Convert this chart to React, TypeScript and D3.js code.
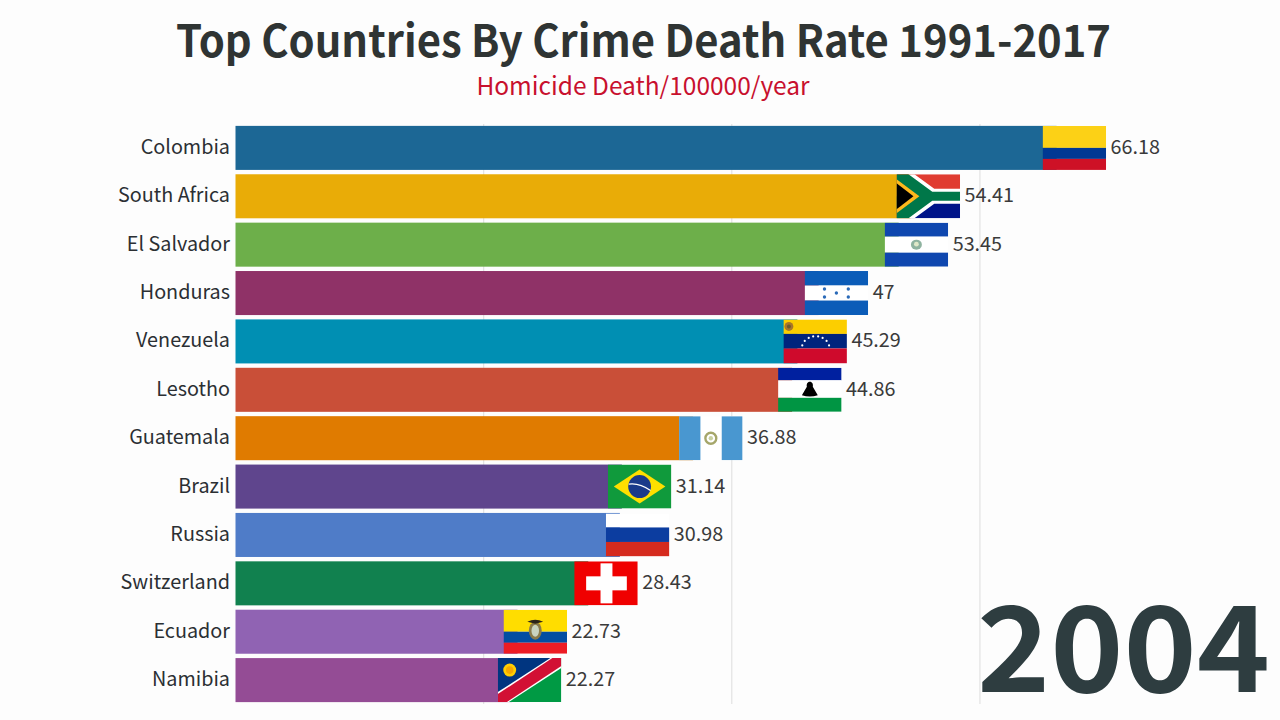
import React from "react";
import * as d3 from "d3";

const countries = ["Colombia", "South Africa", "El Salvador", "Honduras", "Venezuela", "Lesotho", "Guatemala", "Brazil", "Russia", "Switzerland", "Ecuador", "Namibia"];
const values = [66.18, 54.41, 53.45, 47, 45.29, 44.86, 36.88, 31.14, 30.98, 28.43, 22.73, 22.27];
const barColors = ["#1c6795", "#e9ac07", "#6daf4a", "#8f3267", "#008fb3", "#c94f38", "#e07b00", "#5f458d", "#4f7cc8", "#11814f", "#9063b3", "#944c95"];
const gridTicks = [20, 40, 60];
const titleText = "Top Countries By Crime Death Rate 1991-2017";
const subtitleText = "Homicide Death/100000/year";
const yearText = "2004";

const FONT = '"Noto Sans CJK SC", "Noto Sans", sans-serif';

const stripes = (cols: string[], stops: number[]) =>
  cols.map((c, i) => <rect key={i} x={0} y={stops[i]} width={64} height={stops[i + 1] - stops[i]} fill={c} />);

const dots = (pts: number[][], r: number, fill: string) =>
  pts.map((p, i) => <circle key={i} cx={p[0]} cy={p[1]} r={r} fill={fill} />);

// small flags, each drawn in a 64x44 box
const flags: Record<string, React.ReactNode> = {
  Colombia: stripes(["#fcd116", "#003893", "#ce1126"], [0, 22, 33, 44]),
  "South Africa": (
    <>
      <rect width={64} height={22} fill="#e03c31" />
      <rect y={22} width={64} height={22} fill="#001489" />
      <polygon points="12,0 18,0 38,14.5 64,14.5 64,29.5 38,29.5 18,44 12,44" fill="#fff" />
      <polygon points="0,0 12,0 36,17.5 64,17.5 64,26.5 36,26.5 12,44 0,44" fill="#007749" />
      <polygon points="0,5 23,22 0,39" fill="#ffb81c" />
      <polygon points="0,9 17,22 0,35" fill="#000" />
    </>
  ),
  "El Salvador": (
    <>
      {stripes(["#0f47af", "#fff", "#0f47af"], [0, 14, 30, 44])}
      <ellipse cx={32} cy={22} rx={5.5} ry={5} fill="#8fb3a0" />
      <circle cx={32} cy={21.5} r={2.4} fill="#dfe8c8" />
    </>
  ),
  Honduras: (
    <>
      {stripes(["#0b5cb8", "#fff", "#0b5cb8"], [0, 14.5, 29.5, 44])}
      {dots([[20, 18], [20, 26], [32, 22], [44, 18], [44, 26]], 1.7, "#2a6ab8")}
    </>
  ),
  Venezuela: (
    <>
      {stripes(["#fcce00", "#00247d", "#cf0a2c"], [0, 14.5, 29, 44])}
      <circle cx={5.5} cy={7} r={4.5} fill="#a8762a" />
      <circle cx={5.5} cy={7} r={2} fill="#6b5a30" />
      {dots([[19, 26], [21.5, 21.5], [25.5, 18.5], [30, 17], [35, 17], [39.5, 18.5], [43.5, 21.5], [46, 26]], 1.1, "#fff")}
    </>
  ),
  Lesotho: (
    <>
      {stripes(["#00209f", "#fff", "#009543"], [0, 12.5, 30, 44])}
      <path d="M32 14 C34.5 14 35.5 16.5 35 19 L40 27.5 Q32 30 24 27.5 L29 19 C28.5 16.5 29.5 14 32 14Z" fill="#000" />
    </>
  ),
  Guatemala: (
    <>
      {stripes(["#fff"], [0, 44])}
      <rect width={21.5} height={44} fill="#4997d0" />
      <rect x={43} width={21} height={44} fill="#4997d0" />
      <circle cx={32} cy={22} r={5.5} fill="none" stroke="#a5a66a" strokeWidth={2.4} />
      <circle cx={32} cy={22} r={2.2} fill="#c8d0a0" />
    </>
  ),
  Brazil: (
    <>
      <rect width={64} height={44} fill="#109a3c" />
      <polygon points="6,22 32,5 58,22 32,39" fill="#fedf00" />
      <circle cx={32} cy={22} r={11.5} fill="#1a3a8a" />
      <path d="M21 19.5 Q32 18 43 26" fill="none" stroke="#fff" strokeWidth={1.2} />
    </>
  ),
  // white stripe starts a little low so the bar shows as a thin line on top
  Russia: stripes(["#fff", "#0c3da0", "#d52b1e"], [0.8, 14.5, 29, 43.2]),
  Switzerland: (
    <>
      <rect width={64} height={44} fill="#f00000" />
      <rect x={26.5} y={2} width={12} height={40} fill="#fff" />
      <rect x={12} y={15} width={41} height={14} fill="#fff" />
    </>
  ),
  Ecuador: (
    <>
      {stripes(["#ffdd00", "#034ea2", "#ed1c24"], [0, 22, 33, 44])}
      <ellipse cx={32} cy={21} rx={6.5} ry={9} fill="#8a7a4a" />
      <ellipse cx={32} cy={21} rx={3.8} ry={6} fill="#c9d3c0" />
      <path d="M24 12 Q32 8 40 12 L32 14Z" fill="#2b2418" />
    </>
  ),
  Namibia: (
    <>
      <polygon points="0,0 64,0 0,44" fill="#003580" />
      <polygon points="64,0 64,44 0,44" fill="#009a44" />
      <polygon points="0,34 53,0 64,0 64,10 11,44 0,44" fill="#fff" />
      <polygon points="0,36 55,0 64,0 64,8 9,44 0,44" fill="#d21034" />
      <circle cx={12} cy={12} r={6.5} fill="#ffce00" />
      <circle cx={12} cy={12} r={3.8} fill="#f5a800" />
    </>
  ),
};

export default function App() {
  const width = 1280;
  const height = 720;

  const x = d3.scaleLinear().domain([0, 70]).range([235.5, 1104]);
  const y = d3
    .scaleBand<string>()
    .domain(countries)
    .range([123.7, 704.3])
    .paddingInner(0.09)
    .paddingOuter(0.045);
  const flagW = 63.5;

  return (
    <svg
      width={width}
      height={height}
      style={{ position: "fixed", left: 0, top: 0, background: "#fdfdfd", fontFamily: FONT }}
    >
      {gridTicks.map((t) => (
        <line key={t} x1={x(t)} x2={x(t)} y1={124} y2={704} stroke="#e2e2e2" strokeWidth={1.2} />
      ))}

      <text x={176} y={57} textLength={935} lengthAdjust="spacingAndGlyphs" fontSize={44} fontWeight={700} fill="#2f3433">
        {titleText}
      </text>
      <text x={643} y={94.5} textAnchor="middle" fontSize={24.5} fill="#c8102e">
        {subtitleText}
      </text>

      {countries.map((c, i) => {
        const by = y(c) as number;
        const bh = y.bandwidth();
        const end = x(values[i]);
        return (
          <g key={c}>
            <rect x={x(0)} y={by} width={end - x(0)} height={bh} fill={barColors[i]} />
            <svg x={end - 14} y={by} width={flagW} height={bh} viewBox="0 0 64 44" preserveAspectRatio="none">
              {flags[c]}
            </svg>
            <text x={230} y={by + bh / 2 + 6} textAnchor="end" fontSize={19.8} fill="#2b2f33">
              {c}
            </text>
            <text x={end - 14 + flagW + 4.5} y={by + bh / 2 + 6} fontSize={19.8} fill="#3a3a3a">
              {values[i]}
            </text>
          </g>
        );
      })}

      <text x={977} y={691.5} textLength={293} lengthAdjust="spacingAndGlyphs" fontSize={119} fontWeight={700} fill="#2e3d40">
        {yearText}
      </text>
    </svg>
  );
}
